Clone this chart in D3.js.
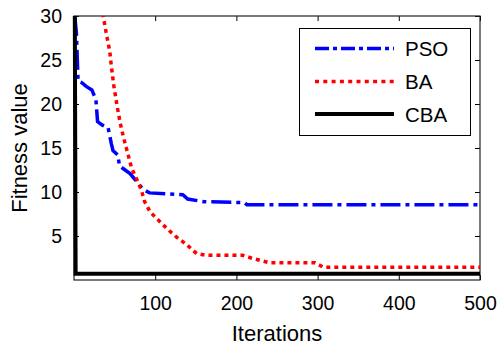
<!DOCTYPE html>
<html>
<head>
<meta charset="utf-8">
<script src="https://cdn.jsdelivr.net/npm/d3@7"></script>
<style>
  html, body { margin: 0; padding: 0; background: #fff; }
  svg { display: block; font-family: "Liberation Sans", Arial, Helvetica, sans-serif; }
</style>
</head>
<body>
<svg id="chart" width="500" height="348"></svg>
<script>
// Convergence curves: [iteration, fitness]
const psoIter  = [1, 3, 5, 10, 15, 22, 27, 29, 35, 42, 46, 48, 54, 56, 60, 69, 79, 85, 93, 134, 140, 160, 210, 213, 500];
const psoValue = [30, 28, 22.6, 22.4, 22, 21.6, 20.5, 18, 17.6, 17.3, 15.5, 14.7, 14.2, 13, 12.7, 12.1, 11, 10.3, 9.9, 9.7, 9.2, 8.9, 8.8, 8.55, 8.55];

const baIter  = [30, 36, 40, 44, 46, 49, 53, 57, 61, 67, 71, 77, 83, 87, 94, 104, 116, 126, 139, 151, 163, 208, 220, 241, 297, 307, 500];
const baValue = [33, 30, 27.9, 26, 24.3, 22.1, 19.8, 17.8, 16.2, 14.1, 12.7, 11.5, 10.2, 8.9, 7.7, 6.8, 5.7, 4.9, 4.0, 3.0, 2.8, 2.8, 2.45, 1.95, 1.95, 1.45, 1.45];

const cbaIter  = [1, 2, 500];
const cbaValue = [30, 0.7, 0.7];

const xTicks = [100, 200, 300, 400, 500];
const yTicks = [5, 10, 15, 20, 25, 30];

const seriesNames = ["PSO", "BA", "CBA"];

const svg = d3.select("#chart");
const plotLeft = 74, plotRight = 480, plotTop = 16, plotBottom = 280;

const x = d3.scaleLinear().domain([0, 500]).range([plotLeft, plotRight]);
const y = d3.scaleLinear().domain([0, 30]).range([plotBottom, plotTop]);

const zip = (a, b) => a.map((v, i) => [v, b[i]]);
const series = [
  { name: seriesNames[0], data: zip(psoIter, psoValue), color: "#0000ff", width: 3.5, dash: "20,5,4,5", legendDash: "14,4,4,4", cap: "butt" },
  { name: seriesNames[1], data: zip(baIter, baValue),   color: "#ff0000", width: 3.5, dash: "4,4",      legendDash: "4,4.3",    cap: "butt" },
  { name: seriesNames[2], data: zip(cbaIter, cbaValue), color: "#000000", width: 4,   dash: null,       legendDash: null,       cap: "butt" }
];

svg.append("defs").append("clipPath").attr("id", "plotClip")
  .append("rect").attr("x", plotLeft - 3).attr("y", plotTop)
  .attr("width", plotRight - plotLeft + 3).attr("height", plotBottom - plotTop);

// Axes with inward ticks on all four sides
const tickStyle = g => {
  g.select(".domain").remove();
  g.selectAll(".tick line").attr("stroke", "#000").attr("stroke-width", 1);
  g.selectAll(".tick text").attr("fill", "#000").style("font-size", "19.5px");
};

svg.append("g").attr("transform", `translate(0,${plotBottom})`)
  .call(d3.axisBottom(x).tickValues(xTicks).tickSizeInner(-5).tickSizeOuter(0).tickPadding(16))
  .call(tickStyle);
svg.append("g").attr("transform", `translate(0,${plotTop})`)
  .call(d3.axisTop(x).tickValues(xTicks).tickSizeInner(-5).tickSizeOuter(0).tickFormat(""))
  .call(tickStyle);
svg.append("g").attr("transform", `translate(${plotLeft},0)`)
  .call(d3.axisLeft(y).tickValues(yTicks).tickSizeInner(-5).tickSizeOuter(0).tickPadding(12))
  .call(tickStyle);
svg.append("g").attr("transform", `translate(${plotRight},0)`)
  .call(d3.axisRight(y).tickValues(yTicks).tickSizeInner(-5).tickSizeOuter(0).tickFormat(""))
  .call(tickStyle);

// Plot frame
svg.append("rect")
  .attr("x", plotLeft).attr("y", plotTop)
  .attr("width", plotRight - plotLeft).attr("height", plotBottom - plotTop)
  .attr("fill", "none").attr("stroke", "#222").attr("stroke-width", 1.2);

// Curves
const line = d3.line().x(d => x(d[0])).y(d => y(d[1]));
const plot = svg.append("g").attr("clip-path", "url(#plotClip)");
series.forEach(s => {
  plot.append("path")
    .datum(s.data)
    .attr("d", line)
    .attr("fill", "none")
    .attr("stroke", s.color)
    .attr("stroke-width", s.width)
    .attr("stroke-linecap", s.cap)
    .attr("stroke-linejoin", "miter")
    .attr("stroke-dasharray", s.dash);
});

// Axis titles
svg.append("text")
  .attr("x", (plotLeft + plotRight) / 2).attr("y", 341)
  .attr("text-anchor", "middle")
  .style("font-size", "22px")
  .text("Iterations");
svg.append("text")
  .attr("transform", `translate(27,${(plotTop + plotBottom) / 2}) rotate(-90)`)
  .attr("text-anchor", "middle")
  .style("font-size", "22px")
  .text("Fitness value");

// Legend
const legend = svg.append("g");
legend.append("rect")
  .attr("x", 299.5).attr("y", 28.5).attr("width", 171).attr("height", 107)
  .attr("fill", "#fff").attr("stroke", "#000").attr("stroke-width", 1);
const rowY = [48.5, 81.5, 114];
series.forEach((s, i) => {
  legend.append("line")
    .attr("x1", 315).attr("x2", 394)
    .attr("y1", rowY[i]).attr("y2", rowY[i])
    .attr("stroke", s.color)
    .attr("stroke-width", s.width)
    .attr("stroke-dasharray", s.legendDash);
  legend.append("text")
    .attr("x", 405).attr("y", rowY[i] + 7.5)
    .style("font-size", "20.5px")
    .text(s.name);
});
</script>
</body>
</html>
